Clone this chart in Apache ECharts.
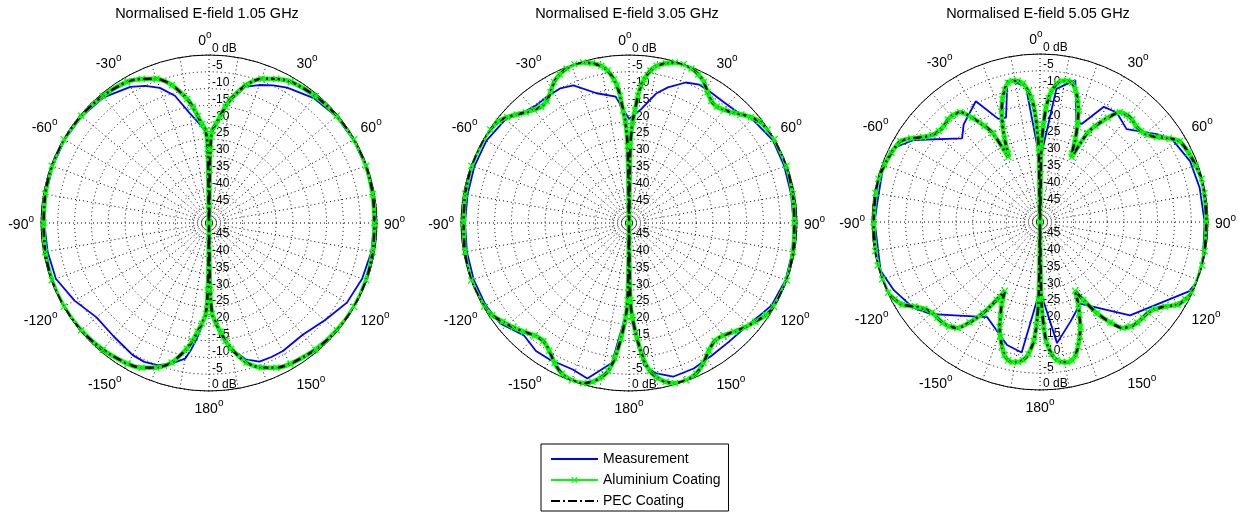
<!DOCTYPE html>
<html><head><meta charset="utf-8">
<script src="https://cdn.jsdelivr.net/npm/echarts@6/dist/echarts.min.js"></script>
<style>html,body{margin:0;padding:0;background:#fff}#c{width:1239px;height:514px}</style>
</head><body><div id="c"></div>
<script>
// ---------------- data ----------------
const titles = ['Normalised E-field 1.05 GHz', 'Normalised E-field 3.05 GHz', 'Normalised E-field 5.05 GHz'];
const seriesNames = ['Measurement', 'Aluminium Coating', 'PEC Coating'];
const angleLabelValues = [-180, -150, -120, -90, -60, -30, 0, 30, 60, 90, 120, 150];
const dbMin = -50, dbMax = 0, dbStep = 5;

// 1.05 GHz
const simAngles1 = [-180,-179,-178,-176,-174,-172,-170,-165,-160,-155,-150,-140,-130,-120,-110,-100,-90,-80,-70,-60,-50,-40,-30,-25,-20,-15,-10,-8,-6,-4,-2,-1,0,1,2,4,6,8,10,15,20,25,30,40,50,60,70,80,90,100,110,120,130,140,150,155,160,165,170,172,174,176,178,179,180];
const alu1 = [-50,-30,-23,-20,-17.5,-14.5,-12,-7,-4.2,-2.5,-1.6,-0.8,-0.3,-0.1,-0.2,-0.5,-0.8,-0.5,-0.2,-0.1,-0.3,-0.7,-1.4,-2.7,-4.3,-7.5,-12.5,-15,-18,-20.5,-22.5,-28,-50,-28,-22.5,-20.5,-18,-15,-12.5,-7.5,-4.3,-2.7,-1.4,-0.7,-0.3,-0.1,-0.2,-0.5,-0.8,-0.5,-0.2,-0.1,-0.3,-0.8,-1.6,-2.5,-4.2,-7,-12,-14.5,-17.5,-20,-23,-30,-50];
const pec1 = [-50,-30,-23,-20,-17.5,-14.5,-12,-7,-4.2,-2.5,-1.6,-0.8,-0.3,-0.1,-0.2,-0.5,-0.8,-0.5,-0.2,-0.1,-0.3,-0.7,-1.4,-2.7,-4.3,-7.5,-12.5,-15,-18,-20.5,-22.5,-28,-50,-28,-22.5,-20.5,-18,-15,-12.5,-7.5,-4.3,-2.7,-1.4,-0.7,-0.3,-0.1,-0.2,-0.5,-0.8,-0.5,-0.2,-0.1,-0.3,-0.8,-1.6,-2.5,-4.2,-7,-12,-14.5,-17.5,-20,-23,-30,-50];
const measAngles1 = simAngles1;
const meas1 = [-50,-30,-23,-19,-15.5,-12,-9,-6.7,-5,-4.4,-4.6,-5.9,-6.3,-3.8,-1.5,-1.2,-1,-0.7,-0.5,-0.4,-0.6,-1.2,-3.2,-5,-7.2,-10.8,-16.8,-18.5,-20,-21.5,-23,-28,-50,-28,-22,-20,-18,-15.5,-13,-8,-6.3,-4.8,-3.5,-1.5,-0.6,-0.4,-0.4,-0.6,-0.9,-0.9,-1.5,-2.6,-5,-6.6,-6,-6,-6.1,-8,-12,-14,-16.5,-19.5,-23,-30,-50];

// 3.05 GHz
const simAngles2 = [-180,-179,-178,-176,-174,-172,-170,-167,-164,-160,-156,-152,-148,-144,-140,-136,-132,-128,-124,-120,-110,-100,-90,-80,-70,-60,-56,-52,-49,-46,-43,-40,-37,-34,-31,-28,-25,-22,-19,-16,-13,-10,-8,-6,-5,-4,-3,-2,-1,0,1,2,3,4,5,6,8,10,13,16,19,22,25,28,31,34,37,40,43,46,49,52,56,60,70,80,90,100,110,120,124,128,132,136,140,144,148,152,156,160,164,167,170,172,174,176,178,179,180];
const alu2 = [-50,-27,-22,-15.5,-9.5,-5.5,-3.5,-1.5,-0.4,-0.2,-0.9,-2.8,-5.2,-6.6,-6.3,-5,-3.6,-2.3,-0.9,-0.2,0,-0.4,-0.8,-0.5,-0.1,0,-0.2,-0.8,-2,-3.5,-5,-6,-6.6,-6.2,-4.6,-2.5,-1.2,-0.4,0,-0.3,-1.2,-2.5,-4.2,-7,-9,-12,-16.5,-20,-27,-50,-27,-20,-16.5,-12,-9,-7,-4.2,-2.5,-1.2,-0.3,0,-0.4,-1.2,-2.5,-4.6,-6.2,-6.6,-6,-5,-3.5,-2,-0.8,-0.2,0,-0.1,-0.5,-0.8,-0.4,0,-0.2,-0.9,-2.3,-3.6,-5,-6.3,-6.6,-5.2,-2.8,-0.9,-0.2,-0.4,-1.5,-3.5,-5.5,-9.5,-15.5,-22,-27,-50];
const pec2 = [-50,-27,-22,-15.5,-9.5,-5.5,-3.5,-1.5,-0.4,-0.2,-0.9,-2.8,-5.2,-6.6,-6.3,-5,-3.6,-2.3,-0.9,-0.2,0,-0.4,-0.8,-0.5,-0.1,0,-0.2,-0.8,-2,-3.5,-5,-6,-6.6,-6.2,-4.6,-2.5,-1.2,-0.4,0,-0.3,-1.2,-2.5,-4.2,-7,-9,-12,-16.5,-20,-27,-50,-27,-20,-16.5,-12,-9,-7,-4.2,-2.5,-1.2,-0.3,0,-0.4,-1.2,-2.5,-4.6,-6.2,-6.6,-6,-5,-3.5,-2,-0.8,-0.2,0,-0.1,-0.5,-0.8,-0.4,0,-0.2,-0.9,-2.3,-3.6,-5,-6.3,-6.6,-5.2,-2.8,-0.9,-0.2,-0.4,-1.5,-3.5,-5.5,-9.5,-15.5,-22,-27,-50];
const measAngles2 = [-180,-173,-165,-159,-150,-144,-137,-128,-120,-110,-100,-90,-80,-70,-60,-50,-44,-38,-33,-27,-22,-14,-6,0,6,12,16,22,27,32,38,44,50,60,70,80,90,100,110,120,126,132,140,148,156,164,170,174,180];
const meas2 = [-26,-8,-2.1,-3.3,-3,-2.9,-4.2,-1.4,-0.8,-0.8,-1,-1.2,-1.2,-1,-1,-2,-4.4,-5.4,-5.2,-5,-5.8,-10.2,-12.2,-19,-16,-10.5,-8,-4.9,-3.8,-4.1,-4.3,-3.9,-2,-0.6,-0.8,-1,-1,-0.6,-0.4,-1,-2.5,-3.5,-3.8,-3.5,-2.6,-2.4,-4.6,-7.5,-26];

// 5.05 GHz
const simAngles3 = [-180,-179,-178,-177,-175,-173,-171,-169,-167,-165,-163,-161,-159,-157,-155,-153,-151,-148,-145,-142,-139,-136,-133,-130,-127,-124,-121,-118,-115,-110,-105,-100,-90,-80,-75,-70,-65,-60,-57,-54,-51,-48,-45,-42,-39,-36,-33,-30,-28,-26,-25,-23,-21,-19,-17,-15,-13,-11,-9,-7,-5,-4,-3,-2,-1,0,1,2,3,4,5,7,9,11,13,15,17,19,21,23,25,26,28,30,33,36,39,42,45,48,51,54,57,60,65,70,75,80,90,100,105,110,115,118,121,124,127,130,133,136,139,142,145,148,151,153,155,157,159,161,163,165,167,169,171,173,175,177,178,179,180];
const alu3 = [-50,-27,-19,-14.5,-10.5,-8.6,-7.8,-7.5,-7.8,-9,-11.3,-13.8,-16.5,-20,-23,-27,-23.5,-18,-13.5,-10,-8.8,-8.3,-8.2,-8,-7,-5,-2.2,-1,-0.1,0,0,-0.2,-0.5,-0.3,-0.2,-0.7,-1.2,-2,-4.3,-7,-8.8,-9.5,-9.6,-9,-9,-9.6,-13,-17,-20,-28.5,-27.5,-23,-18.8,-15,-11.8,-9.3,-7.5,-7.2,-7.5,-8.5,-11,-13,-16,-21,-28,-50,-28,-21,-16,-13,-11,-8.5,-7.5,-7.2,-7.5,-9.3,-11.8,-15,-18.8,-23,-27.5,-28.5,-20,-17,-13,-9.6,-9,-9,-9.6,-9.5,-8.8,-7,-4.3,-2,-1.2,-0.7,-0.2,-0.3,-0.5,-0.2,0,0,-0.1,-1,-2.2,-5,-7,-8,-8.2,-8.3,-8.8,-10,-13.5,-18,-23.5,-27,-23,-20,-16.5,-13.8,-11.3,-9,-7.8,-7.5,-7.8,-8.6,-10.5,-14.5,-19,-27,-50];
const pec3 = [-50,-27,-19,-14.5,-10.5,-8.6,-7.8,-7.5,-7.8,-9,-11.3,-13.8,-16.5,-20,-23,-27,-23.5,-18,-13.5,-10,-8.8,-8.3,-8.2,-8,-7,-5,-2.2,-1,-0.1,0,0,-0.2,-0.5,-0.3,-0.2,-0.7,-1.2,-2,-4.3,-7,-8.8,-9.5,-9.6,-9,-9,-9.6,-13,-17,-20,-28.5,-27.5,-23,-18.8,-15,-11.8,-9.3,-7.5,-7.2,-7.5,-8.5,-11,-13,-16,-21,-28,-50,-28,-21,-16,-13,-11,-8.5,-7.5,-7.2,-7.5,-9.3,-11.8,-15,-18.8,-23,-27.5,-28.5,-20,-17,-13,-9.6,-9,-9,-9.6,-9.5,-8.8,-7,-4.3,-2,-1.2,-0.7,-0.2,-0.3,-0.5,-0.2,0,0,-0.1,-1,-2.2,-5,-7,-8,-8.2,-8.3,-8.8,-10,-13.5,-18,-23.5,-27,-23,-20,-16.5,-13.8,-11.3,-9,-7.8,-7.5,-7.8,-8.6,-10.5,-14.5,-19,-27,-50];
const measAngles3 = [-180,-172,-165,-151,-136,-130,-124,-115,-107,-90,-84,-70,-63,-57,-43,-38,-28,-22,-18,-13,-6,0,7,14,20,23,29,35,43,53,58,68,78,90,102,111,115,136,154,159,163,172,180];
const meas3 = [-29.7,-10.8,-12.1,-17.6,-11.5,-7.4,-4.4,-2,-0.4,-0.8,-1.2,-0.4,-1.3,-5.2,-16,-13.1,-9.3,-16.9,-17.3,-6.8,-9.2,-31.7,-10.1,-6.5,-18.3,-18.3,-10.8,-10.2,-12.2,-6.5,-3.6,-1.8,-1.4,-1,-0.4,0,-1.1,-11.4,-23,-20.9,-19,-13.6,-29.7];

// ---------------- chart ----------------
const FONT = '"Liberation Sans", Arial, Helvetica, sans-serif';
const centers = [[209, 223], [629, 223], [1040, 222]];
const R = 168;
const plots = [
  {simA: simAngles1, alu: alu1, pec: pec1, measA: measAngles1, meas: meas1},
  {simA: simAngles2, alu: alu2, pec: pec2, measA: measAngles2, meas: meas2},
  {simA: simAngles3, alu: alu3, pec: pec3, measA: measAngles3, meas: meas3}
];
const X_SYMBOL = 'path://M0,1.3L1.3,0L5,3.7L8.7,0L10,1.3L6.3,5L10,8.7L8.7,10L5,6.3L1.3,10L0,8.7L3.7,5Z';
const dotted = {color: '#000', width: 1, type: [1, 3]};

function angleFmt(v) {
  if (angleLabelValues.indexOf(v) < 0) return '';
  const t = v === -180 ? 180 : v;
  return '{n|' + t + '}{' + (t === 0 ? 'z' : 's') + '|o}';
}
function radFmt(v) {
  if (v === dbMax) return '0 dB';
  if (v === dbMin) return '';
  return String(v);
}
const supStyle = {fontSize: 10, fontFamily: FONT, color: '#000', lineHeight: 10, verticalAlign: 'top'};
const polar = [], angleAxis = [], radiusAxis = [], series = [], graphic = [];
plots.forEach((p, k) => {
  const main = 2 * k, over = 2 * k + 1;
  polar.push({center: centers[k], radius: R});
  polar.push({center: centers[k], radius: R});
  angleAxis.push({
    polarIndex: main, type: 'value', min: -180, max: 180, interval: 10,
    startAngle: 270, clockwise: true,
    axisLine: {show: true, lineStyle: {color: '#000', width: 1}},
    axisTick: {show: false},
    axisLabel: {
      show: true, margin: 7, formatter: angleFmt,
      rich: {
        n: {fontSize: 14, fontFamily: FONT, color: '#000', lineHeight: 18, verticalAlign: 'bottom'},
        s: supStyle,
        z: Object.assign({}, supStyle, {padding: [0, 8, 0, 0]})
      }
    },
    splitLine: {show: true, lineStyle: dotted}
  });
  radiusAxis.push({
    polarIndex: main, type: 'value', min: dbMin, max: dbMax, interval: dbStep,
    axisLine: {show: false}, axisTick: {show: false},
    axisLabel: {show: true, formatter: radFmt, fontSize: 12, fontFamily: FONT, color: '#000', margin: 3, align: 'left', verticalAlign: 'bottom'},
    splitLine: {show: true, lineStyle: dotted}
  });
  angleAxis.push({
    polarIndex: over, type: 'value', min: -180, max: 180, interval: 10,
    startAngle: 90, clockwise: true,
    axisLine: {show: false}, axisTick: {show: false}, axisLabel: {show: false}, splitLine: {show: false}
  });
  radiusAxis.push({
    polarIndex: over, type: 'value', min: dbMin, max: dbMax, interval: dbStep,
    axisLine: {show: false}, axisTick: {show: false},
    axisLabel: {show: true, formatter: radFmt, fontSize: 12, fontFamily: FONT, color: '#000', margin: -3, align: 'left', verticalAlign: 'bottom'},
    splitLine: {show: false}
  });
  series.push({
    name: seriesNames[0], type: 'line', coordinateSystem: 'polar', polarIndex: main,
    data: p.meas.map((v, i) => [v, p.measA[i]]),
    symbol: 'none', smooth: false,
    lineStyle: {color: '#0000ff', width: 1.8}, itemStyle: {color: '#0000ff'}
  });
  series.push({
    name: seriesNames[1], type: 'line', coordinateSystem: 'polar', polarIndex: main,
    data: p.alu.map((v, i) => [v, p.simA[i]]),
    symbol: X_SYMBOL, symbolSize: 7, showSymbol: true, smooth: 0.25,
    lineStyle: {color: '#00ff00', width: 4.5}, itemStyle: {color: '#00ff00'}
  });
  series.push({
    name: seriesNames[2], type: 'line', coordinateSystem: 'polar', polarIndex: main,
    data: p.pec.map((v, i) => [v, p.simA[i]]),
    symbol: 'none', smooth: 0.25,
    lineStyle: {color: '#000000', width: 2.5, type: [9, 3, 2, 3]}, itemStyle: {color: '#000000'}
  });
  graphic.push({
    type: 'text', x: centers[k][0] - 2, y: 14,
    style: {text: titles[k], align: 'center', verticalAlign: 'middle', font: '14.5px ' + FONT, fill: '#000'}
  });
});

const chart = echarts.init(document.getElementById('c'), null, {renderer: 'canvas'});
chart.setOption({
  animation: false,
  backgroundColor: '#fff',
  polar, angleAxis, radiusAxis, series, graphic,
  legend: {
    data: [
      {name: seriesNames[0], itemStyle: {opacity: 0}},
      {name: seriesNames[1]},
      {name: seriesNames[2], itemStyle: {opacity: 0}}
    ],
    orient: 'vertical', left: 541, top: 444, height: 200,
    itemWidth: 47, itemHeight: 8, itemGap: 7,
    padding: [8, 8, 3, 9],
    borderColor: '#000', borderWidth: 1, borderRadius: 0,
    textStyle: {fontSize: 14, fontFamily: FONT, color: '#000', lineHeight: 14}
  }
});
</script>
</body></html>
